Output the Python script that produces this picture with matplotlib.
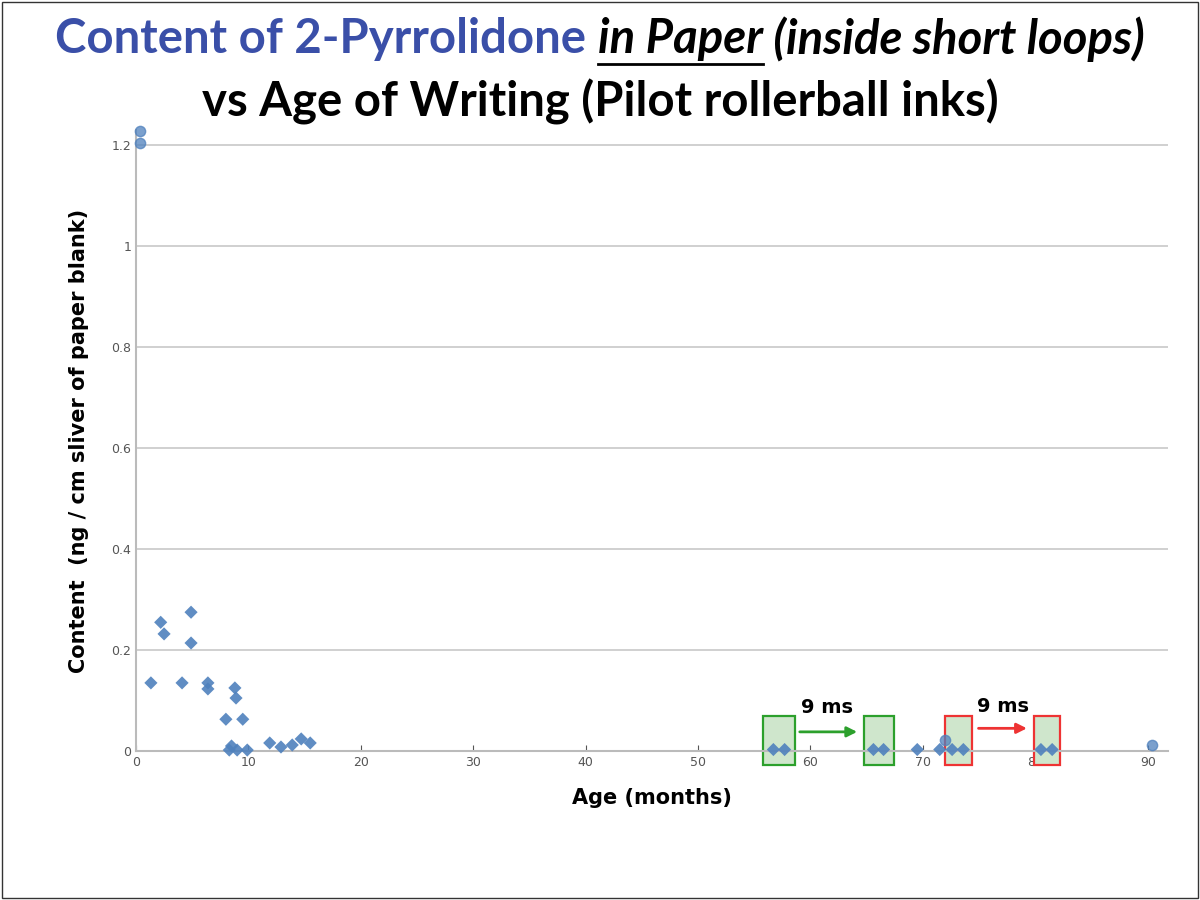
import matplotlib
matplotlib.use("Agg")
import matplotlib.pyplot as plt
from matplotlib.patches import Rectangle

dia_x = [1.33,2.2,2.5,4.1,4.9,4.9,6.4,6.4,8.8,8.9,8.0,9.5,8.3,9.0,9.9,8.5,11.9,12.9,13.9,14.7,15.5,
         56.7,57.7,65.6,66.5,69.5,71.5,72.6,73.6,80.5,81.5]
dia_y = [0.135,0.255,0.232,0.135,0.275,0.214,0.135,0.123,0.125,0.105,0.063,0.063,0.002,0.002,0.002,0.01,0.016,0.008,0.012,0.024,0.016,
         0.003,0.003,0.003,0.003,0.003,0.003,0.003,0.003,0.003,0.003]
circ_x = [0.35,0.4,72.0,90.4]
circ_y = [1.228,1.204,0.022,0.012]
green_boxes = [(55.8,58.6),(64.8,67.4)]
red_boxes = [(72.0,74.4),(79.9,82.2)]

fig = plt.figure(figsize=(12,9), dpi=100)
fig.patches.append(Rectangle((0.002,0.002),0.996,0.996,transform=fig.transFigure,fill=False,edgecolor='#333',lw=1))
ax = fig.add_axes([0.1133,0.1655,0.86,0.69])
ax.set_xlim(0,91.8); ax.set_ylim(0,1.23)
for v in [0.2,0.4,0.6,0.8,1.0,1.2]:
    ax.axhline(v,color='#c8c8c8',lw=1.2,zorder=0)
for s in ['top','right']: ax.spines[s].set_visible(False)
ax.spines['left'].set_color('#bbbbbb'); ax.spines['bottom'].set_color('#bbbbbb')
ax.spines['left'].set_linewidth(1.5); ax.spines['bottom'].set_linewidth(1.5)
ax.set_xticks(range(0,91,10)); ax.set_yticks([0,0.2,0.4,0.6,0.8,1.0,1.2])
ax.set_yticklabels(['0','0.2','0.4','0.6','0.8','1','1.2'])
ax.tick_params(axis='both',labelsize=9,colors='#555',length=4,direction='in')
ax.tick_params(axis='y',length=0)
ax.set_xlabel('Age (months)',fontsize=15,fontweight='bold',labelpad=14)
ax.set_ylabel('Content  (ng / cm sliver of paper blank)',fontsize=15,fontweight='bold',labelpad=16)
for (a,b),ec in [(g,'#2ca02c') for g in green_boxes]+[(r,'#ee3333') for r in red_boxes]:
    ax.add_patch(Rectangle((a,-0.028),b-a,0.097,facecolor='#cfe6cc',edgecolor=ec,lw=1.6,zorder=2,clip_on=False))
ax.scatter(dia_x,dia_y,marker='D',s=45,color='#4f81bd',alpha=0.9,zorder=3,clip_on=False,edgecolors='none')
ax.scatter(circ_x,circ_y,marker='o',s=55,color='#4f81bd',alpha=0.75,zorder=3,clip_on=False,edgecolors='#4f81bd')
ax.annotate('',xy=(64.4,0.038),xytext=(58.8,0.038),arrowprops=dict(arrowstyle='-|>',color='#2ca02c',lw=2,mutation_scale=15))
ax.annotate('',xy=(79.5,0.045),xytext=(74.7,0.045),arrowprops=dict(arrowstyle='-|>',color='#ee3333',lw=2,mutation_scale=15))
ax.text(61.5,0.075,'9 ms',fontsize=14,fontweight='bold',ha='center')
ax.text(77.1,0.077,'9 ms',fontsize=14,fontweight='bold',ha='center')

y1 = 0.957
FS = 34
parts = [('Content of 2-Pyrrolidone ','#3a4fa8','normal'),('in Paper','black','italic'),(' (inside short loops)','black','italic')]
r = fig.canvas.get_renderer()
texts=[]
for s,c,st in parts:
    texts.append(fig.text(0,y1,s,fontsize=FS,fontweight='bold',color=c,style=st,family='Lato',va='center'))
ws=[t.get_window_extent(r).width/1200 for t in texts]
x0=0.5-sum(ws)/2
for t,w in zip(texts,ws):
    t.set_x(x0); x0+=w
bb=texts[1].get_window_extent(r)
fig.add_artist(plt.Line2D([bb.x0/1200,bb.x1/1200],[0.929,0.929],color='black',lw=2,transform=fig.transFigure))
fig.text(0.5,0.887,'vs Age of Writing (Pilot rollerball inks)',fontsize=FS,fontweight='bold',family='Lato',ha='center',va='center')
fig.savefig('out.png',dpi=100)
